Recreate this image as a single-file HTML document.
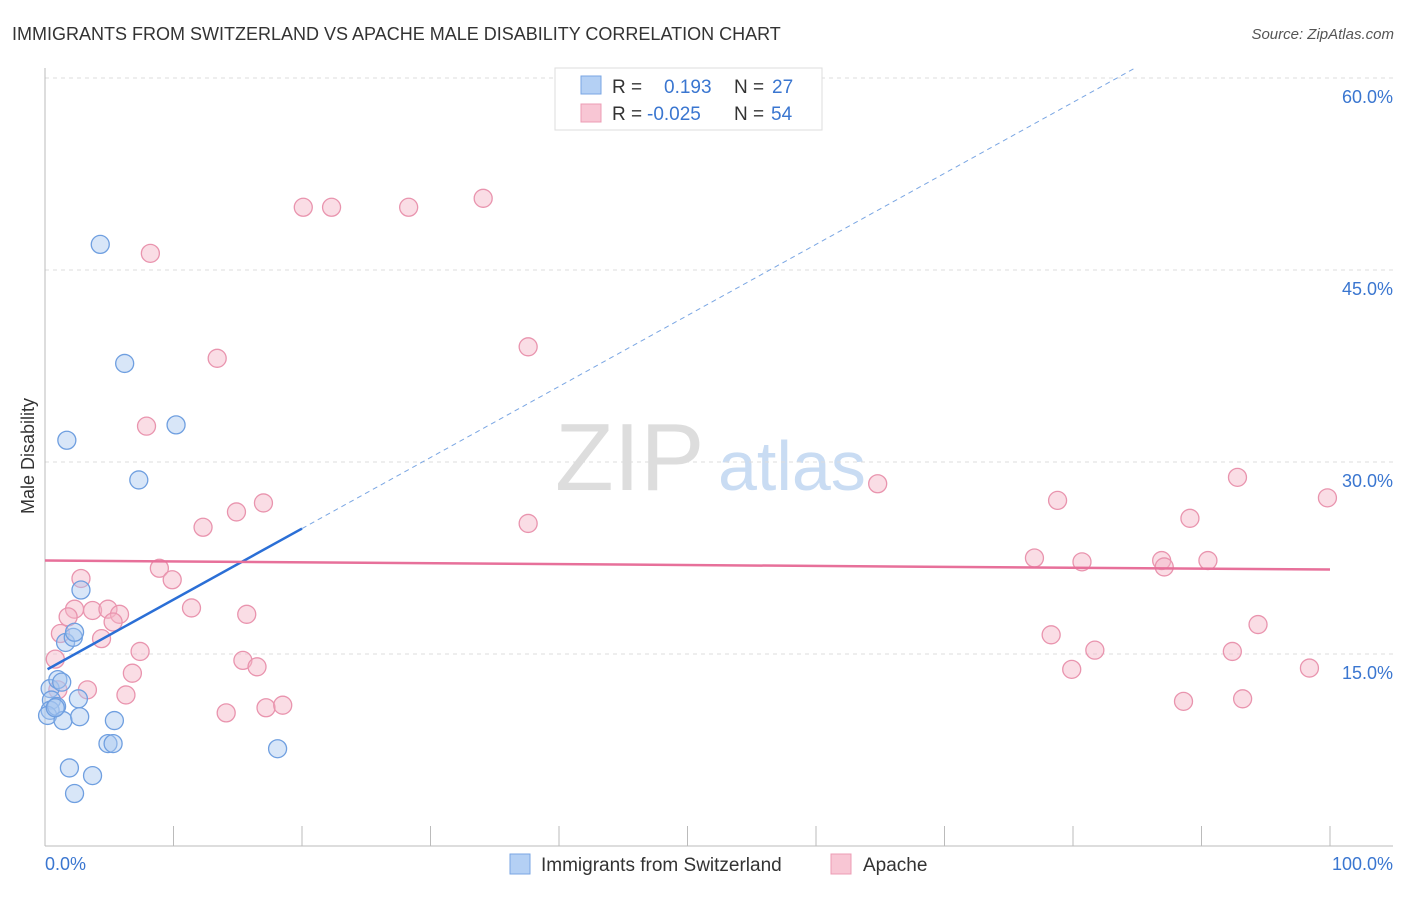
<!DOCTYPE html>
<html><head><meta charset="utf-8"><style>
body{margin:0;background:#fff;font-family:"Liberation Sans",sans-serif}
svg text{font-family:"Liberation Sans",sans-serif}
</style></head><body>
<svg id="c" width="1406" height="892">
<text x="12" y="40" font-size="18" fill="#333">IMMIGRANTS FROM SWITZERLAND VS APACHE MALE DISABILITY CORRELATION CHART</text>
<text x="1394" y="39" font-size="15" fill="#555" text-anchor="end" font-style="italic">Source: ZipAtlas.com</text>
<text x="34" y="456" font-size="18" fill="#333" text-anchor="middle" transform="rotate(-90 34 456)">Male Disability</text>
<text x="555" y="490" font-size="96" fill="#ddd" font-family="Liberation Serif">ZIP</text>
<text x="718" y="490" font-size="70" fill="#c9dcf3">atlas</text>
<g id="grid"></g><g id="marks"></g>
<g>
<rect x="555" y="68" width="267" height="62" fill="#fff" stroke="#ddd"/>
<rect x="581" y="76" width="20" height="18" fill="#b4d0f4" stroke="#7aa6e3"/>
<text x="612" y="93" font-size="19" fill="#333">R =</text><text x="664" y="93" font-size="19" fill="#3a76d0">0.193</text>
<text x="734" y="93" font-size="19" fill="#333">N =</text><text x="772" y="93" font-size="19" fill="#3a76d0">27</text>
<rect x="581" y="104" width="20" height="18" fill="#f8c6d4" stroke="#ec9cb4"/>
<text x="612" y="120" font-size="19" fill="#333">R =</text><text x="647" y="120" font-size="19" fill="#3a76d0">-0.025</text>
<text x="734" y="120" font-size="19" fill="#333">N =</text><text x="771" y="120" font-size="19" fill="#3a76d0">54</text>
</g>
<g>
<rect x="510" y="854" width="20" height="20" fill="#b4d0f4" stroke="#7aa6e3"/>
<text x="541" y="871" font-size="19" fill="#333">Immigrants from Switzerland</text>
<rect x="831" y="854" width="20" height="20" fill="#f8c6d4" stroke="#ec9cb4"/>
<text x="863" y="871" font-size="19" fill="#333">Apache</text>
</g>
<text x="45" y="870" font-size="18" fill="#3a76d0">0.0%</text>
<text x="1393" y="870" font-size="18" fill="#3a76d0" text-anchor="end">100.0%</text>
</svg>
<script>
const yTicks=[15,30,45,60];
const yTickLabels=["15.0%","30.0%","45.0%","60.0%"];
const blueX=[4.3,6.2,1.7,10.2,7.3,2.8,1.6,2.2,2.3,0.4,0.5,1.0,1.3,0.4,0.2,0.9,1.4,2.6,2.7,5.4,4.9,5.3,18.1,1.9,3.7,2.3,0.8];
const blueY=[47.0,37.7,31.7,32.9,28.6,20.0,15.9,16.3,16.7,12.3,11.4,13.0,12.8,10.6,10.2,10.9,9.8,11.5,10.1,9.8,8.0,8.0,7.6,6.1,5.5,4.1,10.8];
const pinkX=[8.2,20.1,22.3,28.3,34.1,13.4,37.6,7.9,17.0,14.9,12.3,37.6,64.8,92.8,99.8,78.8,89.1,77.0,80.7,86.9,87.1,90.5,2.8,8.9,9.9,2.3,3.7,4.9,5.8,1.8,5.3,11.4,15.7,1.2,4.4,78.3,94.4,7.4,0.8,81.7,92.4,15.4,16.5,6.8,79.9,98.4,1.0,3.3,6.3,14.1,17.2,18.5,88.6,93.2];
const pinkY=[46.3,49.9,49.9,49.9,50.6,38.1,39.0,32.8,26.8,26.1,24.9,25.2,28.3,28.8,27.2,27.0,25.6,22.5,22.2,22.3,21.8,22.3,20.9,21.7,20.8,18.5,18.4,18.5,18.1,17.9,17.5,18.6,18.1,16.6,16.2,16.5,17.3,15.2,14.6,15.3,15.2,14.5,14.0,13.5,13.8,13.9,12.2,12.2,11.8,10.4,10.8,11.0,11.3,11.5];
const blueTrend=[13.7,0.555];
const pinkTrend=[22.3,-0.007];
const X=v=>45+v*12.85, Y=v=>846-v*12.8;
const NS="http://www.w3.org/2000/svg";
function mk(t,a,p){const e=document.createElementNS(NS,t);for(const k in a)e.setAttribute(k,a[k]);p.appendChild(e);return e;}
const g=document.getElementById('grid'), m=document.getElementById('marks');
yTicks.forEach((t,i)=>{
 const l=mk('line',{x1:45,x2:1393,y1:Y(t),y2:Y(t),stroke:'#ddd','stroke-dasharray':'4,4'},g);
 
 
 const tx=mk('text',{x:1393,y:Y(t)+25,'font-size':18,fill:'#3a76d0','text-anchor':'end'},g);
 tx.textContent=yTickLabels[i];
 
 
});
mk('line',{x1:45,x2:45,y1:68,y2:846,stroke:'#bbb'},g);
mk('line',{x1:45,x2:1393,y1:846,y2:846,stroke:'#bbb'},g);
for(let i=0;i<=10;i++){const tk=mk('line',{x1:X(i*10),x2:X(i*10),y1:826,y2:846,stroke:'#bbb'},g);
 
 }
function pts(xs,ys,fill,stroke,name){xs.forEach((x,i)=>{const c=mk('circle',{cx:X(x),cy:Y(ys[i]),r:9,fill:fill,'fill-opacity':0.45,stroke:stroke,'stroke-width':1.3},m);
 
 });}
pts(pinkX,pinkY,'#f4b3c6','#e994ae','apache-point');
pts(blueX,blueY,'#a9c8f0','#6f9fe0','switzerland-point');
const bl=v=>blueTrend[0]+blueTrend[1]*v, pl=v=>pinkTrend[0]+pinkTrend[1]*v;
const b1=mk('line',{x1:X(0.2),y1:Y(bl(0.2)),x2:X(20),y2:Y(bl(20)),stroke:'#2b6fd6','stroke-width':2.5},m);


const xe=(60.8-blueTrend[0])/blueTrend[1];
const b2=mk('line',{x1:X(20),y1:Y(bl(20)),x2:X(xe),y2:Y(bl(xe)),stroke:'#7aa6e3','stroke-width':1,'stroke-dasharray':'5,4'},m);


const p1=mk('line',{x1:X(0),y1:Y(pl(0)),x2:X(100),y2:Y(pl(100)),stroke:'#e7709a','stroke-width':2.5},m);


</script>
</body></html>
